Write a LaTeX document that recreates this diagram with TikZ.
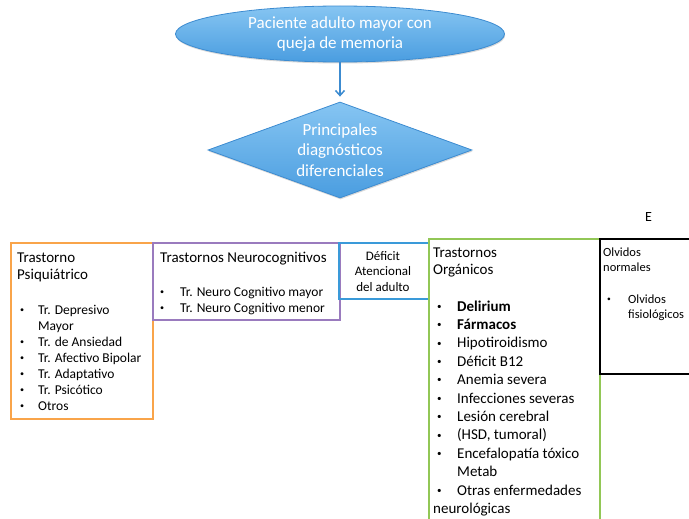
\documentclass[tikz,border=0pt]{standalone}
\usepackage{fontspec}
\setmainfont{Carlito}
\usepackage{tikz}
\usepackage{xcolor}
\usetikzlibrary{positioning}
\usetikzlibrary{arrows.meta}
\usetikzlibrary{shapes.geometric}
\usetikzlibrary{shadows}
\definecolor{azulclaro}{HTML}{86C5F2}
\definecolor{azuloscuro}{HTML}{4A9DE0}
\definecolor{bordeazul}{HTML}{3C8BD0}
\definecolor{psiqcol}{HTML}{F9A44A}
\definecolor{neurocol}{HTML}{9A7BBE}
\definecolor{deficitcol}{HTML}{3A9AD9}
\definecolor{organcol}{HTML}{92C756}
\tikzset{
cajita/.style={draw, line width=1.5pt, anchor=north west, inner sep=0pt},
texto/.style={anchor=base west, inner sep=0pt, align=left},
azul/.style={draw=bordeazul, line width=.8pt, top color=azulclaro, bottom color=azuloscuro,
  text=white, inner sep=0pt, align=center, font=\fontsize{17}{20.5}\selectfont,
  drop shadow={opacity=.3, shadow xshift=.6pt, shadow yshift=-1.5pt}}
}
\newcommand{\bul}[2]{\makebox[#1][l]{\raisebox{.12em}{\scalebox{.6}{\textbullet}}}#2}

\begin{document}
\begin{tikzpicture}[x=1pt,y=-1pt]
\useasboundingbox (0,0) rectangle (689,519);

% Top of the chart
\node[ellipse, azul, minimum width=329pt, minimum height=56pt] (paciente) at (340,34)
  {Paciente adulto mayor con\\queja de memoria};
\node[diamond, azul, aspect=2.75, minimum width=264pt, minimum height=96pt] (principales) at (340,150)
  {Principales\\diagnósticos\\diferenciales};

% Boxes
\node[cajita, draw=psiqcol, minimum width=142pt, minimum height=176pt] (psiq) at (10,242) {};
\node[cajita, draw=neurocol, minimum width=187pt, minimum height=77pt] (neuro) at (152,242) {};
\node[cajita, draw=deficitcol, minimum width=90pt, minimum height=56pt] (deficit) at (338,242) {};
\node[cajita, draw=organcol, minimum width=171pt, minimum height=300pt] (organ) at (428,238) {};
\node[cajita, draw=black, minimum width=100pt, minimum height=135pt] (olvidos) at (599,238) {};

% Texts (placed at the baseline of their last line)
\node[texto, font=\fontsize{15}{17.5}\selectfont] (psiq_tit) at (17,279.5) {Trastorno\\Psiquiátrico};
\node[texto, font=\fontsize{13.5}{16}\selectfont] (psiq_lista) at (20,410)
  {\bul{18pt}{Tr. Depresivo}\\\hspace*{18pt}Mayor\\\bul{18pt}{Tr. de Ansiedad}\\
   \bul{18pt}{Tr. Afectivo Bipolar}\\\bul{18pt}{Tr. Adaptativo}\\\bul{18pt}{Tr. Psicótico}\\
   \bul{18pt}{Otros}};

\node[texto, font=\fontsize{15}{17.5}\selectfont] (neuro_tit) at (160,262) {Trastornos Neurocognitivos};
\node[texto, font=\fontsize{13.5}{16}\selectfont] (neuro_lista) at (160,312)
  {\bul{20pt}{Tr. Neuro Cognitivo mayor}\\\bul{20pt}{Tr. Neuro Cognitivo menor}};

\node[texto, anchor=base, align=center, font=\fontsize{13}{15.5}\selectfont] (deficit_txt) at (383,291)
  {Déficit\\Atencional\\del adulto};

\node[texto, font=\fontsize{15}{17.5}\selectfont] (organ_tit) at (433,274.5) {Trastornos\\Orgánicos};
\node[texto, font=\fontsize{15}{18.4}\selectfont] (organ_lista) at (433,513.4)
  {\hspace*{4pt}\bul{20pt}{\textbf{Delirium}}\\\hspace*{4pt}\bul{20pt}{\textbf{Fármacos}}\\
   \hspace*{4pt}\bul{20pt}{Hipotiroidismo}\\\hspace*{4pt}\bul{20pt}{Déficit B12}\\
   \hspace*{4pt}\bul{20pt}{Anemia severa}\\\hspace*{4pt}\bul{20pt}{Infecciones severas}\\
   \hspace*{4pt}\bul{20pt}{Lesión cerebral}\\\hspace*{4pt}\bul{20pt}{(HSD, tumoral)}\\
   \hspace*{4pt}\bul{20pt}{Encefalopatía tóxico}\\\hspace*{24pt}Metab\\
   \hspace*{4pt}\bul{20pt}{Otras enfermedades}\\neurológicas};

\node[texto, font=\fontsize{12.5}{15.5}\selectfont] (olvidos_tit) at (603,271.5) {Olvidos\\normales};
\node[texto, font=\fontsize{12.5}{15.5}\selectfont] (olvidos_lista) at (607,318.5)
  {\bul{21pt}{Olvidos}\\\hspace*{21pt}fisiológicos};

\node[texto, font=\fontsize{14}{16}\selectfont] (letra) at (645,221) {E};

% Arrows
\draw[bordeazul, line width=1.5pt, shorten >=5pt, -{Straight Barb[length=5pt,width=9pt]}] (paciente) -- (principales);

\end{tikzpicture}
\end{document}
